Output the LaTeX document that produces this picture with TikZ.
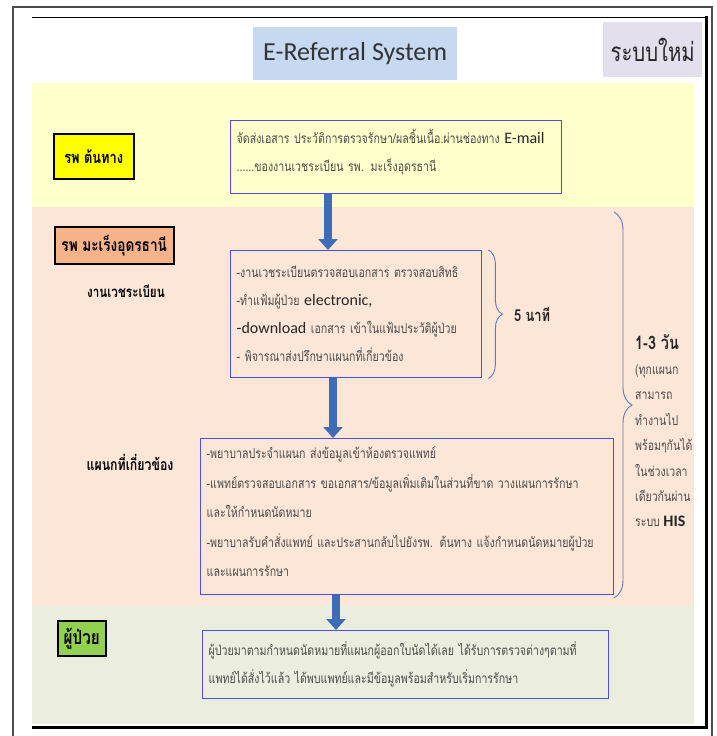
\documentclass[tikz,border=0pt]{standalone}
\usepackage{fontspec}
\setmainfont{Carlito}
\newfontfamily\thai[Script=Thai,FakeStretch=0.78]{Loma}
\usetikzlibrary{arrows.meta,decorations.pathreplacing}
\definecolor{bandyellow}{HTML}{FFFFCC}
\definecolor{bandpeach}{HTML}{FCE6D8}
\definecolor{bandgreen}{HTML}{EBEEDE}
\definecolor{titleblue}{HTML}{C6D9F1}
\definecolor{newlilac}{HTML}{E4DFEC}
\definecolor{boxblue}{HTML}{5050E0}
\definecolor{arrowblue}{HTML}{3E6DB5}
\definecolor{bracecol}{HTML}{5B7CB8}
\definecolor{txtgray}{HTML}{4A4A4A}
\definecolor{lblyellow}{HTML}{FFFF00}
\definecolor{lblorange}{HTML}{F6B288}
\definecolor{lblgreen}{HTML}{92D050}
\newcommand\eng[1]{{\normalfont\fontsize{16}{16}\selectfont\color{black!85}#1}}
\newcommand\lblfont[1]{\thai\bfseries\fontsize{#1}{#1}\selectfont}

\begin{document}
\begin{tikzpicture}[x=1pt,y=-1pt,
  lblbox/.style={draw=black, line width=1.5, anchor=north west, inner sep=0},
  flowbox/.style={draw=boxblue, line width=1.4, anchor=north west, align=left,
    inner xsep=6, inner ysep=0, text=txtgray, font=\thai\fontsize{13.6}{28}\selectfont},
  bigarrow/.style={arrowblue, line width=8.5, -{Triangle[width=19pt,length=11pt]}},
  brc/.style={draw=bracecol, line width=0.9, decorate, decoration={brace, amplitude=#1}},
  brc/.default=14]
\useasboundingbox (0,0) rectangle (716,736);
% frame
\draw[black!70, line width=2] (12.5,736) -- (12.5,6.5) -- (711.5,6.5) -- (711.5,736);
\draw[line width=1] (32,17) -- (707,17);
\draw[line width=3] (706.5,16) -- (706.5,727) -- (32,727);
% bands
\fill[bandyellow] (32,83) rectangle (694,207);
\fill[bandpeach] (32,207) rectangle (694,605);
\fill[bandgreen] (32,605) rectangle (694,724);
% header
\node[fill=titleblue, minimum width=204, minimum height=53, anchor=north west,
  text=black!80, font=\fontsize{26}{26}\selectfont] (title) at (253,27) {E-Referral System};
\node[fill=newlilac, minimum width=99, minimum height=55, anchor=north west,
  text=black!85, font=\thai\fontsize{26}{26}\selectfont] (newsys) at (603,22) {ระบบใหม่};
% left labels
\node[lblbox, fill=lblyellow, minimum width=80, minimum height=45, font=\lblfont{16.5}] (origin) at (53,133) {รพ ต้นทาง};
\node[lblbox, fill=lblorange, minimum width=119, minimum height=37, font=\lblfont{17.5}] (mrh) at (54,226) {รพ มะเร็งอุดรธานี};
\node[font=\lblfont{15}] (regdept) at (126,291) {งานเวชระเบียน};
\node[font=\lblfont{15.8}] (reldept) at (130,462) {แผนกที่เกี่ยวข้อง};
\node[lblbox, fill=lblgreen, minimum width=48, minimum height=35, font=\lblfont{19.5}] (patient) at (57,620) {ผู้ป่วย};
% flow boxes
\node[flowbox, text width=319, minimum height=73] (send) at (230,120)
  {จัดส่งเอสาร ประวัติการตรวจรักษา/ผลชิ้นเนื้อ.ผ่านช่องทาง \eng{E-mail}\\
   ......ของงานเวชระเบียน รพ. มะเร็งอุดรธานี\par\vspace{11pt}};
\node[flowbox, text width=239, minimum height=127] (check) at (230,250)
  {-งานเวชระเบียนตรวจสอบเอกสาร ตรวจสอบสิทธิ\\
   -ทำแฟ้มผู้ป่วย \eng{electronic,}\\
   \eng{-download} เอกสาร เข้าในแฟ้มประวัติผู้ป่วย\\
   - พิจารณาส่งปรึกษาแผนกที่เกี่ยวข้อง};
\node[flowbox, text width=401, minimum height=156, font=\thai\fontsize{13.6}{29.5}\selectfont] (dept) at (200,438)
  {-พยาบาลประจำแผนก ส่งข้อมูลเข้าห้องตรวจแพทย์\\
   -แพทย์ตรวจสอบเอกสาร ขอเอกสาร/ข้อมูลเพิ่มเติมในส่วนที่ขาด วางแผนการรักษา\\
   และให้กำหนดนัดหมาย\\
   -พยาบาลรับคำสั่งแพทย์ และประสานกลับไปยังรพ. ต้นทาง แจ้งกำหนดนัดหมายผู้ป่วย\\
   และแผนการรักษา\par\vspace{10pt}};
\node[flowbox, text width=394, minimum height=68] (visit) at (202,630)
  {ผู้ป่วยมาตามกำหนดนัดหมายที่แผนกผู้ออกใบนัดได้เลย ได้รับการตรวจต่างๆตามที่\\
   แพทย์ได้สั่งไว้แล้ว ได้พบแพทย์และมีข้อมูลพร้อมสำหรับเริ่มการรักษา};
% arrows
\coordinate (ax1) at (328,0);
\coordinate (ax2) at (333,0);
\coordinate (ax3) at (336,0);
\draw[bigarrow] (send.south -| ax1) -- (check.north -| ax1);
\draw[bigarrow] (check.south -| ax2) -- (dept.north -| ax2);
\draw[bigarrow] (dept.south -| ax3) -- (visit.north -| ax3);
% braces
\draw[brc=14] ([xshift=6]check.north east) -- ([xshift=6]check.south east)
  node[midway, right=22pt, font=\lblfont{16.5}, text=black!85] (fivemin) {5 นาที};
\coordinate (bt) at (614,212);
\coordinate (bb) at (614,598);
\draw[brc=18] (bt) -- (bb);
\node[anchor=north west, align=left, inner sep=0, text=txtgray,
  font=\thai\fontsize{13.5}{25.4}\selectfont] (days) at (635,334)
  {{\lblfont{18.5}\color{black!85}1-3 วัน}\\
   (ทุกแผนก\\ สามารถ\\ ทำงานไป\\ พร้อมๆกันได้\\ ในช่วงเวลา\\ เดียวกันผ่าน\\
   ระบบ {\normalfont\bfseries\fontsize{16}{16}\selectfont\color{black!85}HIS}};
\end{tikzpicture}
\end{document}
